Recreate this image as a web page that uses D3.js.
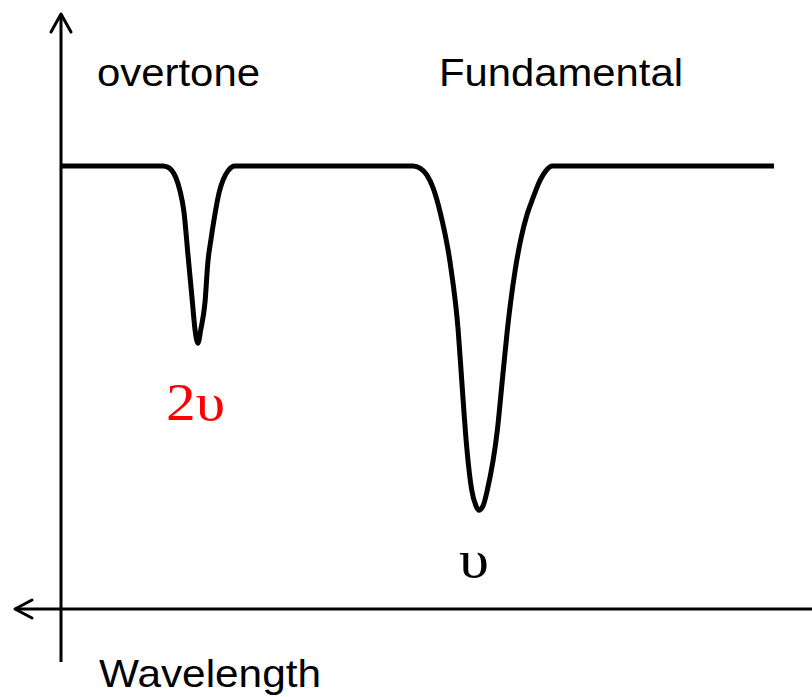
<!DOCTYPE html>
<html>
<head>
<meta charset="utf-8">
<script src="https://cdn.jsdelivr.net/npm/d3@7"></script>
<style>
  html, body { margin: 0; padding: 0; background: #fff; }
  svg { display: block; }
</style>
</head>
<body>
<svg id="chart" width="812" height="697"></svg>
<script>
// ---- data (x: arbitrary spectral position 0..100, y: transmittance %) ----
const spectrumX = [0, 14.31, 15.01, 15.57, 16.13, 16.69, 17.25, 17.81, 18.4, 18.8, 19.2, 19.6, 20.2, 20.6, 21.04, 21.6, 22.16, 22.72, 23.42, 24.4,
                   49.4, 50.35, 51.3, 52.2, 53.2, 54.6, 55.7, 56.2, 56.9, 57.6, 58.2, 58.6, 59.2, 59.8, 61.2, 61.9, 62.6, 63.7, 64.52, 65.4, 66.2, 67.2, 68.0, 68.9, 100];
const spectrumT = [100, 100, 99.7, 98.9, 97.3, 94.4, 89.6, 79.9, 69.8, 63.0, 60.0, 63.0, 69.3, 78.3, 83.5, 89.2, 93.9, 96.8, 98.9, 100,
                   100, 99.5, 98.0, 95.0, 89.4, 77.9, 63.0, 51.7, 36.6, 26.9, 23.3, 22.3, 23.3, 26.9, 40.4, 51.7, 63.0, 76.5, 83.7, 89.2, 92.8, 96.8, 98.9, 100, 100];
const bandLabels = ["overtone", "Fundamental"];
const peakLabels = ["2υ", "υ"];
const axisLabel = "Wavelength";

const svg = d3.select("#chart");
const x = d3.scaleLinear().domain([0, 100]).range([61, 774]);
const y = d3.scaleLinear().domain([0, 100]).range([609, 166]);

// axes
const axisG = svg.append("g").attr("stroke", "#000").attr("stroke-width", 3).attr("fill", "none")
  .attr("stroke-linecap", "round").attr("stroke-linejoin", "round");
axisG.append("line").attr("x1", x(0)).attr("x2", x(0)).attr("y1", 14).attr("y2", 662).attr("stroke-linecap", "butt");
axisG.append("path").attr("d", `M${x(0)-10},${32} L${x(0)},${14} L${x(0)+10},${32}`);
axisG.append("line").attr("x1", 15).attr("x2", 812).attr("y1", y(0)).attr("y2", y(0)).attr("stroke-linecap", "butt");
axisG.append("path").attr("d", `M${32},${y(0)-9} L${15},${y(0)} L${32},${y(0)+9}`);

// spectrum
const pts = spectrumX.map((d, i) => [d, spectrumT[i]]);
const line = d3.line().x(d => x(d[0])).y(d => y(d[1])).curve(d3.curveMonotoneX);
svg.append("path").datum(pts).attr("d", line)
  .attr("fill", "none").attr("stroke", "#000").attr("stroke-width", 5).attr("stroke-linejoin", "round");

// labels
const sans = "'Liberation Sans', Arial, sans-serif";
const serif = "'Liberation Serif', 'Times New Roman', serif";
function fit(sel, w) {
  const len = sel.node().getComputedTextLength();
  if (len > 0) sel.attr("textLength", w).attr("lengthAdjust", "spacingAndGlyphs");
}
fit(svg.append("text").attr("x", 97).attr("y", 86).attr("font-family", sans).attr("font-size", 38).text(bandLabels[0]), 163);
fit(svg.append("text").attr("x", 439).attr("y", 86).attr("font-family", sans).attr("font-size", 38).text(bandLabels[1]), 244);
fit(svg.append("text").attr("x", 99).attr("y", 687).attr("font-family", sans).attr("font-size", 39).text(axisLabel), 222);

fit(svg.append("text").attr("x", 166).attr("y", 420).attr("font-family", serif).attr("font-size", 53)
  .attr("fill", "#ff0000").text(peakLabels[0]), 59);
fit(svg.append("text").attr("x", 459).attr("y", 577).attr("font-family", serif).attr("font-size", 53)
  .attr("fill", "#000").text(peakLabels[1]), 30);
</script>
</body>
</html>
